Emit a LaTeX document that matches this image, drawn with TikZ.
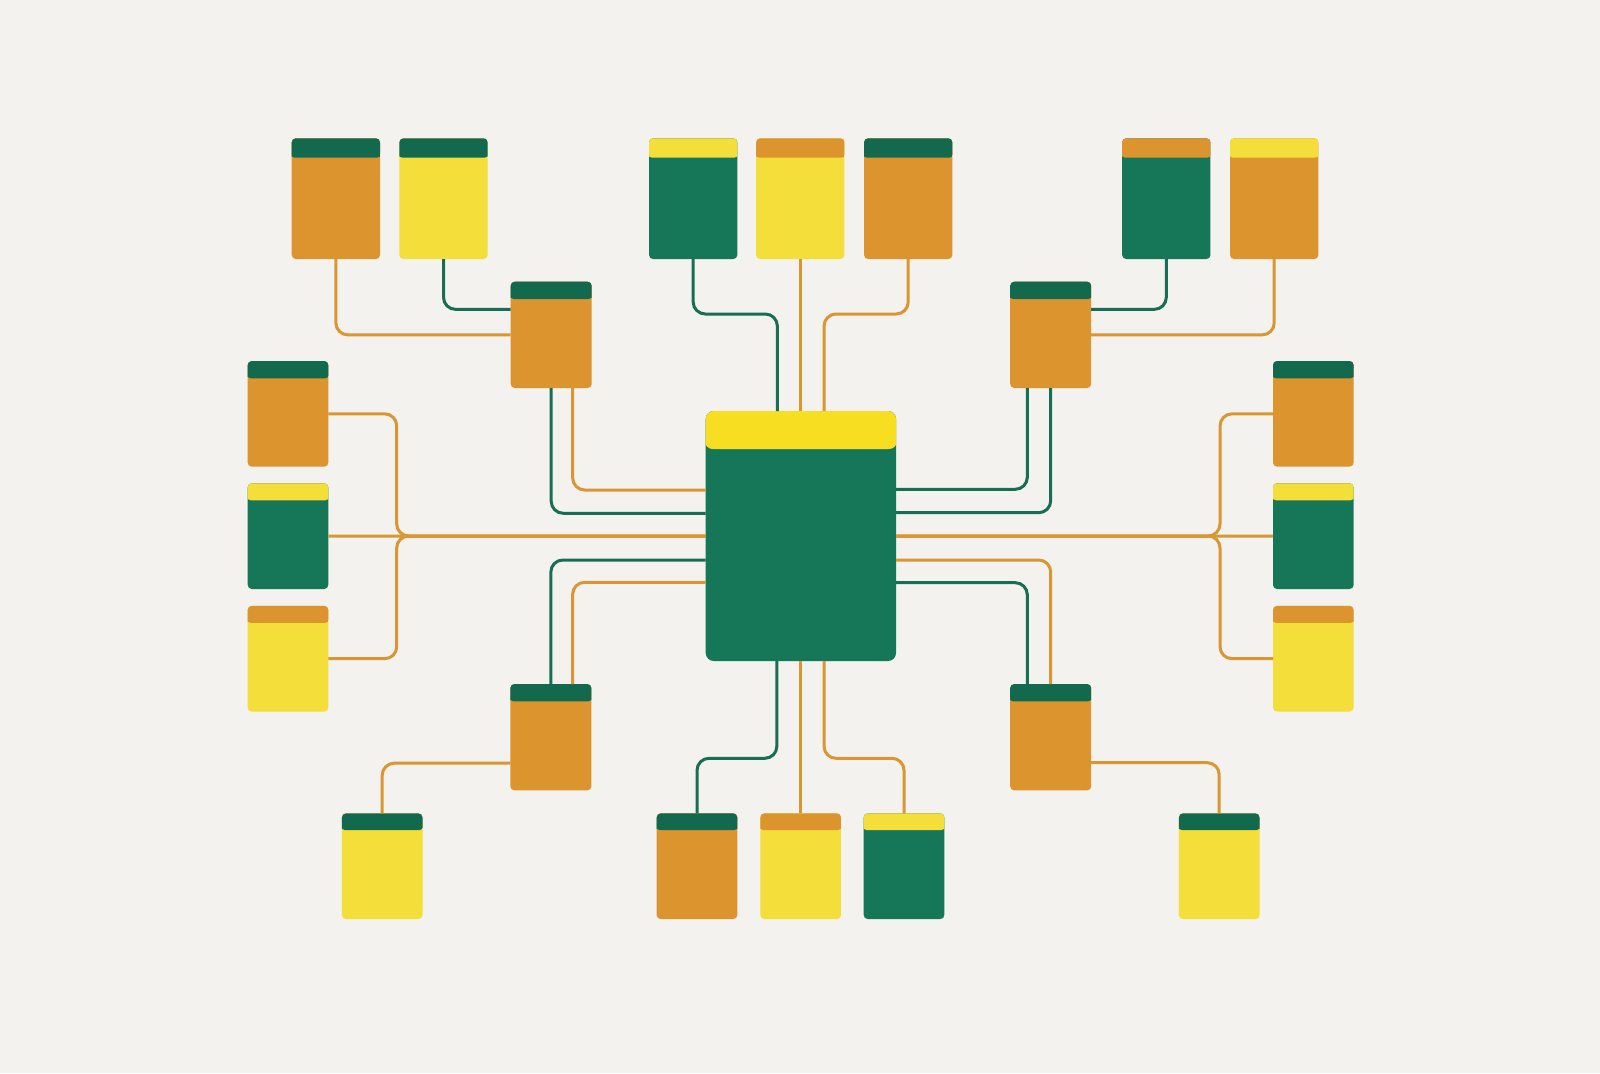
\documentclass[tikz,border=0pt]{standalone}
\usetikzlibrary{calc}
\definecolor{bg}{RGB}{243,242,238}
\definecolor{cgreen}{RGB}{22,118,88}
\definecolor{hgreen}{RGB}{19,105,78}
\definecolor{corange}{RGB}{220,148,46}
\definecolor{cyellow}{RGB}{243,222,58}
\definecolor{myellow}{RGB}{248,222,32}
\definecolor{lorange}{RGB}{218,150,50}
\definecolor{lgreen}{RGB}{24,110,84}
\tikzset{
  card/.style={rectangle, rounded corners=4pt, inner sep=0pt, outer sep=0pt, draw=none},
  hdr/.style n args={3}{path picture={
      \fill[#2] ([xshift=-1pt,yshift=-1pt]path picture bounding box.south west) rectangle ([xshift=1pt,yshift=1pt]path picture bounding box.north east);
      \fill[#1] ([xshift=-1pt,yshift=1pt]path picture bounding box.north west) rectangle ([xshift=1pt,yshift=-#3]path picture bounding box.north east);}},
  topcard/.style={card, minimum width=88.3pt, minimum height=120.7pt},
  hubcard/.style={card, minimum width=81pt, minimum height=106.3pt},
  sidecard/.style={card, minimum width=80.6pt, minimum height=105.7pt},
  oline/.style={draw=lorange, line width=3pt, rounded corners=12pt},
  gline/.style={draw=lgreen, line width=3pt, rounded corners=12pt}
}
\begin{document}
\begin{tikzpicture}[x=1pt,y=-1pt]
\fill[bg] (0,0) rectangle (1600,1073);
\useasboundingbox (0,0) rectangle (1600,1073);

% main
\node[card, rounded corners=8pt, minimum width=190.3pt, minimum height=250pt, hdr={myellow}{cgreen}{38pt}] (M) at (800.85,536) {};

% top row
\node[topcard, hdr={hgreen}{corange}{19.4pt}] (t1) at (335.85,198.65) {};
\node[topcard, hdr={hgreen}{cyellow}{19.4pt}] (t2) at (443.5,198.65) {};
\node[topcard, hdr={cyellow}{cgreen}{19.4pt}] (t3) at (693.2,198.65) {};
\node[topcard, hdr={corange}{cyellow}{19.4pt}] (t4) at (800.3,198.65) {};
\node[topcard, hdr={hgreen}{corange}{19.4pt}] (t5) at (908.2,198.65) {};
\node[topcard, hdr={corange}{cgreen}{19.4pt}] (t6) at (1166.3,198.65) {};
\node[topcard, hdr={cyellow}{corange}{19.4pt}] (t7) at (1274.2,198.65) {};

% hubs
\node[hubcard, hdr={hgreen}{corange}{17.3pt}] (hA) at (551.2,334.85) {};
\node[hubcard, hdr={hgreen}{corange}{17.3pt}] (hB) at (1050.7,334.85) {};
\node[hubcard, hdr={hgreen}{corange}{17.3pt}] (hC) at (550.85,737.2) {};
\node[hubcard, hdr={hgreen}{corange}{17.3pt}] (hD) at (1050.7,737.2) {};

% left column
\node[sidecard, hdr={hgreen}{corange}{17.3pt}] (L1) at (288,413.85) {};
\node[sidecard, hdr={cyellow}{cgreen}{17pt}] (L2) at (288,536.15) {};
\node[sidecard, hdr={corange}{cyellow}{17pt}] (L3) at (288,658.7) {};
% right column
\node[sidecard, hdr={hgreen}{corange}{17.3pt}] (R1) at (1313.3,413.85) {};
\node[sidecard, hdr={cyellow}{cgreen}{17pt}] (R2) at (1313.3,536.15) {};
\node[sidecard, hdr={corange}{cyellow}{17pt}] (R3) at (1313.3,658.7) {};

% bottom row
\node[sidecard, hdr={hgreen}{cyellow}{16.7pt}] (B1) at (382.2,866.2) {};
\node[sidecard, hdr={hgreen}{corange}{16.7pt}] (B2) at (697,866.2) {};
\node[sidecard, hdr={corange}{cyellow}{16.7pt}] (B3) at (800.65,866.2) {};
\node[sidecard, hdr={cyellow}{cgreen}{16.7pt}] (B4) at (904,866.2) {};
\node[sidecard, hdr={hgreen}{cyellow}{16.7pt}] (B5) at (1219.2,866.2) {};

% helper coordinates
\coordinate (ytop) at (0,314);
\coordinate (ybot) at (0,758.3);
\coordinate (mt1) at ([xshift=-23.5pt]M.north);
\coordinate (mt3) at ([xshift=23.2pt]M.north);
\coordinate (mb1) at ([xshift=-24pt]M.south);
\coordinate (mb3) at ([xshift=23.2pt]M.south);
\coordinate (jl) at (396.7,536);
\coordinate (jr) at (1220,536);

% top row to hubs
\draw[oline] (t1.south) |- (hA.west);
\draw[gline] (t2.south) |- ([yshift=25.5pt]hA.west);
\draw[gline] (t6.south) |- ([yshift=25.5pt]hB.east);
\draw[oline] (t7.south) |- (hB.east);

% top row to main
\draw[gline] (t3.south) -- (t3.south |- ytop) -| (mt1);
\draw[oline] (t4.south) -- (t4.south |- M.north);
\draw[oline] (t5.south) -- (t5.south |- ytop) -| (mt3);

% hubs to main
\draw[gline] (hA.south) |- ([yshift=22.7pt]M.west);
\draw[oline] ([xshift=21.5pt]hA.south) |- ([yshift=46pt]M.west);
\draw[gline] ([xshift=-23.4pt]hB.south) |- ([yshift=46.7pt]M.east);
\draw[gline] (hB.south) |- ([yshift=23.3pt]M.east);
\draw[gline] (hC.north) |- ([yshift=-24pt]M.west);
\draw[oline] ([xshift=21.8pt]hC.north) |- ([yshift=-46.3pt]M.west);
\draw[oline] (hD.north) |- ([yshift=-24pt]M.east);
\draw[gline] ([xshift=-23.4pt]hD.north) |- ([yshift=-46.7pt]M.east);

% side columns to main
\draw[oline] (L1.east) -| (jl) -- (M.west);
\draw[oline] (L3.east) -| (jl) -- (M.west);
\draw[oline] (L2.east) -- (M.west);
\draw[oline] (R1.west) -| (jr) -- (M.east);
\draw[oline] (R3.west) -| (jr) -- (M.east);
\draw[oline] (R2.west) -- (M.east);

% bottom
\draw[oline] ([yshift=-26pt]hC.west) -| (B1.north);
\draw[oline] ([yshift=-25.5pt]hD.east) -| (B5.north);
\draw[gline] (mb1) -- (mb1 |- ybot) -| (B2.north);
\draw[oline] (B3.north) -- (B3.north |- M.south);
\draw[oline] (mb3) -- (mb3 |- ybot) -| (B4.north);
\end{tikzpicture}
\end{document}
